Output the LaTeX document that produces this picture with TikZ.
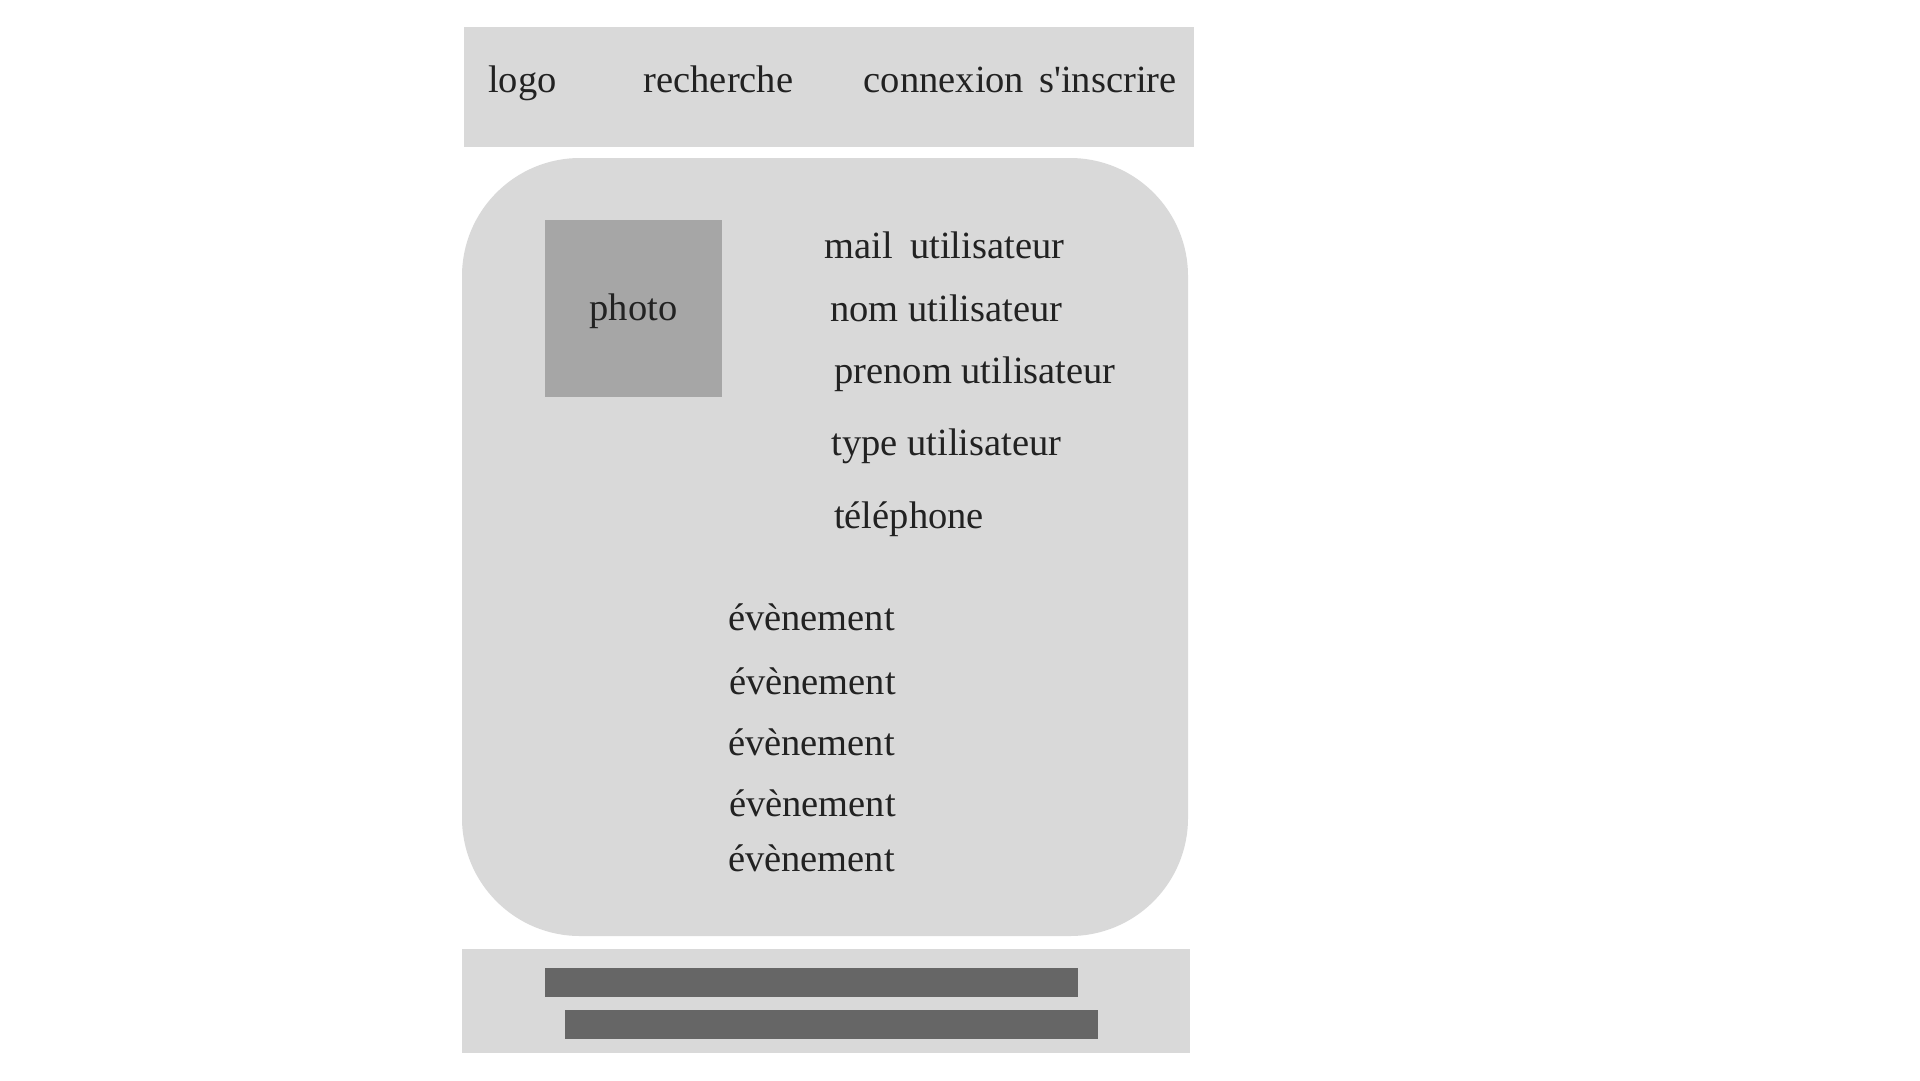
\documentclass[tikz,border=0pt]{standalone}
\usepackage{fontspec}
\setmainfont{Liberation Serif}[Ligatures=TeXOff]
\definecolor{panel}{HTML}{D9D9D9}
\definecolor{photogray}{HTML}{A6A6A6}
\definecolor{bargray}{HTML}{666666}
\definecolor{ink}{HTML}{222222}
\begin{document}
\begin{tikzpicture}[x=1pt,y=-1pt,
  lbl/.style={inner sep=0pt, anchor=base, text=ink, font=\fontsize{38.5}{46}\selectfont},
  panelbox/.style={fill=panel, draw=none},
  barbox/.style={fill=bargray, draw=none}]
\useasboundingbox (0,0) rectangle (1920,1080);
\fill[white] (0,0) rectangle (1920,1080);
% header
\path[panelbox] (464,27) rectangle (1194,147);
\node[lbl] (logo) at (522.5,92) {logo};
\node[lbl] (recherche) at (718.5,92) {recherche};
\node[lbl] (connexion) at (944,92) {connexion};
\node[lbl] (inscrire) at (1108,92) {s'inscrire};
% main panel
\path[panelbox, rounded corners=118pt] (462,158) rectangle (1188,936);
\node[fill=photogray, minimum width=177pt, minimum height=177pt, inner sep=0pt] (photo) at (633.5,308.5) {};
\node[lbl] (photolbl) at (photo.center) [yshift=-12pt] {photo};
\node[lbl] (mail) at (944.5,258) {mail\hspace{17pt}utilisateur};
\node[lbl] (nom) at (946.5,321) {nom utilisateur};
\node[lbl] (prenom) at (975,383) {prenom utilisateur};
\node[lbl] (type) at (946.5,455) {type utilisateur};
\node[lbl] (tel) at (909,528) {téléphone};
\node[lbl] (ev1) at (811.5,630) {évènement};
\node[lbl] (ev2) at (812.5,694) {évènement};
\node[lbl] (ev3) at (811.5,755) {évènement};
\node[lbl] (ev4) at (812.5,816) {évènement};
\node[lbl] (ev5) at (811.5,871) {évènement};
% footer
\path[panelbox] (462,949) rectangle (1190,1053);
\path[barbox] (545,968) rectangle (1078,997);
\path[barbox] (565,1010) rectangle (1098,1039);
\end{tikzpicture}
\end{document}
